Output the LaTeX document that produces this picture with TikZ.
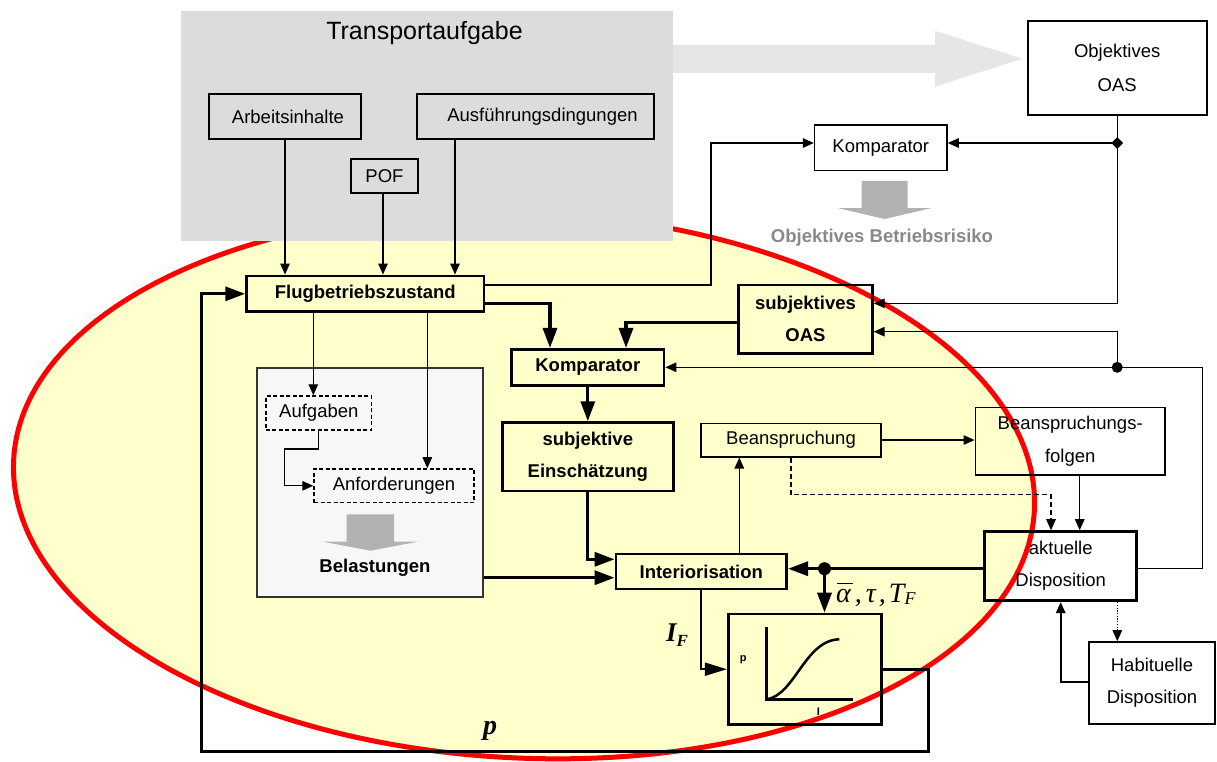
\documentclass[tikz,border=0pt]{standalone}
\usepackage{fontspec}
\setmainfont{Liberation Sans}
\newfontfamily\serifit{Liberation Serif}
\usetikzlibrary{arrows.meta,calc,shapes.geometric}
\definecolor{ellfill}{RGB}{255,255,204}
\definecolor{ellred}{RGB}{255,0,0}
\definecolor{taskgray}{RGB}{220,220,220}
\definecolor{bigarrow}{RGB}{230,230,230}
\definecolor{fatgray}{RGB}{178,178,178}
\definecolor{riskgray}{RGB}{136,136,136}
\definecolor{panelgray}{RGB}{247,247,247}
\tikzset{
  sz/.style 2 args={minimum width=#1pt, minimum height=#2pt},
  plainbox/.style={draw, line width=1.6pt, rectangle},
  heavybox/.style={draw, line width=2.8pt, rectangle, font=\fontsize{18.5}{32}\selectfont\bfseries},
  dashbox/.style={draw, dash pattern=on 4pt off 2.5pt, line width=1.5pt, rectangle},
  conn/.style={line width=1.3pt, -{Triangle[length=11pt,width=9.5pt]}},
  strong/.style={line width=3.3pt, -{Triangle[length=20pt,width=14pt]}},
  medium/.style={line width=2pt, -{Triangle[length=22pt,width=13pt]}},
  junction/.style={circle, fill, inner sep=0pt}
}
\begin{document}
\begin{tikzpicture}[x=1pt,y=-1pt,
  every node/.style={font=\fontsize{18.5}{32}\selectfont, inner sep=0pt, align=center}]
\useasboundingbox (0,0) rectangle (1217,761);

% yellow region of the subjective loop
\draw[ellred, line width=5pt, fill=ellfill, rotate around={-2.8:(524,485)}]
  (524,485) ellipse [x radius=511pt, y radius=273pt];

% transport task block
\node[fill=taskgray, sz={492}{230}, anchor=north west] (task) at (181,11) {};
\node[font=\fontsize{25}{28}\selectfont] (tasktitle) at (424.5,33) {Transportaufgabe};
\fill[bigarrow] (673,44.5) -- (935,44.5) -- (935,30.8) -- (1022.5,58.7)
  -- (935,86.6) -- (935,73) -- (673,73) -- cycle;

\node[plainbox, sz={152}{45}] (arb) at (285,116.5) {\hspace*{6pt}Arbeitsinhalte};
\node[plainbox, sz={237}{45}] (ausf) at (535.5,116.5) {\hspace*{14pt}Ausführungsdingungen};
\node[plainbox, sz={67}{34}] (pof) at (384.5,176) {POF};

% objective side
\node[plainbox, fill=white, sz={179}{93.5}, font=\fontsize{18.5}{34}\selectfont] (oas) at (1117.2,68) {Objektives\\OAS};
\node[plainbox, fill=white, sz={132.4}{45.5}] (kompA) at (880.8,147.8) {Komparator};
\fill[fatgray] (861.5,180.8) -- (907.7,180.8) -- (907.7,208) -- (931.7,208)
  -- (884.6,219) -- (837.5,208) -- (861.5,208) -- cycle;
\node[font=\fontsize{18.5}{32}\selectfont\bfseries, text=riskgray] (risk) at (882,238) {Objektives Betriebsrisiko};

% subjective loop
\node[heavybox, sz={237.3}{35.7}] (flug) at (365.3,293.8) {Flugbetriebszustand};
\node[draw=black!80, line width=2pt, fill=panelgray, sz={226.6}{228.4}] (panel) at (370,482.5) {};
\node[dashbox, sz={105.7}{34}] (aufg) at (318.8,413) {Aufgaben};
\node[dashbox, sz={160}{33.7}] (anf) at (394,485.8) {Anforderungen};
\fill[fatgray] (346.7,514.3) -- (394,514.3) -- (394,541.7) -- (417.7,541.7)
  -- (370.4,550.7) -- (323.3,541.7) -- (346.7,541.7) -- cycle;
\node[font=\fontsize{18.5}{32}\selectfont\bfseries] (bel) at (375,567.7) {Belastungen};

\node[heavybox, sz={133.6}{68.3}] (soas) at (805.5,319.2) {subjektives\\OAS};
\node[heavybox, sz={152.3}{36}] (kompB) at (587.8,367.3) {Komparator};
\node[heavybox, sz={171}{68.3}] (einsch) at (587.8,456.8) {subjektive\\Einschätzung};
\node[plainbox, sz={180}{33.4}] (beans) at (791,440) {Beanspruchung};
\node[plainbox, sz={189.7}{67.3}, font=\fontsize{18.5}{33}\selectfont] (folgen) at (1070.2,441.3) {Beanspruchungs-\\folgen};
\node[heavybox, sz={170.7}{35}] (inter) at (701.3,571.5) {Interiorisation};
\node[draw, line width=3pt, sz={152}{69}] (akt) at (1060.7,566.2) {aktuelle\\Disposition};
\node[plainbox, fill=white, sz={126.3}{82}] (hab) at (1152,683) {Habituelle\\Disposition};
\node[draw, line width=2.8pt, sz={153.4}{110.3}] (graph) at (805,669.2) {};

% probability curve inside the graph box
\draw[line width=2.5pt] (766.7,626.7) -- (766.7,699.3) -- (852.7,699.3);
\draw[line width=2.5pt] (766.7,699.3) .. controls (795,695) and (805,640) .. (839.3,639.3);
\node[font=\fontsize{11}{12}\selectfont\bfseries] (gp) at (743.3,660) {p};
\node[font=\fontsize{11}{12}\selectfont\bfseries] (gi) at (818.3,711.7) {I};

% labels
\node[font=\serifit\itshape\fontsize{28}{30}\selectfont, anchor=base west] (params) at (836,602)
  {\rlap{\hspace{1pt}\rule[18pt]{16pt}{1.4pt}}α\hspace{4pt},\hspace{4pt}τ\hspace{3pt},\hspace{3pt}T\raisebox{-2pt}{\fontsize{18}{18}\selectfont F}};
\node[font=\serifit\bfseries\itshape\fontsize{27}{28}\selectfont] (ifl) at (677,635) {I\raisebox{-5pt}{\fontsize{17}{17}\selectfont F}};
\node[font=\serifit\bfseries\itshape\fontsize{28}{30}\selectfont] (pl) at (490,731) {p};

% junctions
\coordinate (dia) at (1117.2,143);
\coordinate (dot) at (1117.2,367.3);
\coordinate (adot) at (824.5,568.7);

% task inputs
\draw[conn] (arb.south) -- (arb.south |- flug.north);
\draw[conn] ($(pof.south)+(-1.5,0)$) coordinate (p1) -- (p1 |- flug.north);
\draw[conn] ($(ausf.south)+(-80.5,0)$) coordinate (a1) -- (a1 |- flug.north);

% flight state to the comparators
\draw[conn] ($(flug.east)+(0,-8.8)$) -- ++(225.7,0) |- (dia -| kompA.west);
\draw[strong] ($(flug.east)+(0,9.5)$) -| ($(kompB.north)+(-37.8,0)$);
\draw[strong] ($(soas.west)+(0,3.5)$) -| ($(kompB.north)+(38.2,0)$);

% objective OAS
\draw[conn] (oas.south) |- ($(soas.east)+(0,-15.9)$);
\draw[conn] (dia) -- (dia -| kompA.east);
\node[diamond, fill, inner sep=0pt, minimum size=12pt] (diamark) at (dia) {};

% disposition feedback
\draw[conn] ($(akt.east)+(0,2.5)$) -- ++(64.5,0) |- (kompB.east);
\draw[conn] (dot) |- ($(soas.east)+(0,12.5)$);
\node[junction, minimum size=11pt] (dotmark) at (dot) {};

% inner chain
\draw[strong] (kompB.south) -- (einsch.north);
\draw[strong] (einsch.south) |- ($(inter.west)+(0,-12.2)$);
\path ($(inter.west)+(0,6.2)$) coordinate (iw);
\draw[strong] (iw -| panel.east) -- (iw);
\path ($(akt.west)+(0,2.5)$) coordinate (aw);
\draw[strong] (aw) -- (aw -| inter.east);
\node[junction, minimum size=13pt] (adotmark) at (adot) {};
\draw[strong] (adot) -- (adot |- graph.north);
\draw[medium] (inter.south) |- (graph.west);
\draw[conn] ($(inter.north)+(38,0)$) coordinate (iu) -- (iu |- beans.south);
\draw[conn] (beans.east) -- (beans.east -| folgen.west);
\draw[conn, dash pattern=on 5pt off 3pt] (beans.south) -- ++(0,36.8) -| ($(akt.north)+(-9.7,0)$);
\draw[conn] ($(folgen.south)+(9.5,0)$) coordinate (fs) -- (fs |- akt.north);
\draw[conn, line width=1pt, dash pattern=on 1.2pt off 1.5pt] ($(akt.south)+(56.6,0)$) coordinate (as) -- (as |- hab.north);
\draw[conn, line width=1.8pt] ($(hab.west)+(0,-0.7)$) -| (akt.south);

% loop back to the flight state
\draw[strong] (graph.east) -- ++(45.2,0) -- ++(0,82.5) -| ($(flug.west)+(-43.6,0)$) -- (flug.west);

% demands panel
\draw[conn] ($(flug.south)+(-52,0)$) coordinate (f1) -- (f1 |- aufg.north);
\draw[conn] ($(flug.south)+(62,0)$) coordinate (f2) -- (f2 |- anf.north);
\draw[conn] (aufg.south) -- ++(0,18.3) -- ++(-34,0) |- (anf.west);
\end{tikzpicture}
\end{document}
